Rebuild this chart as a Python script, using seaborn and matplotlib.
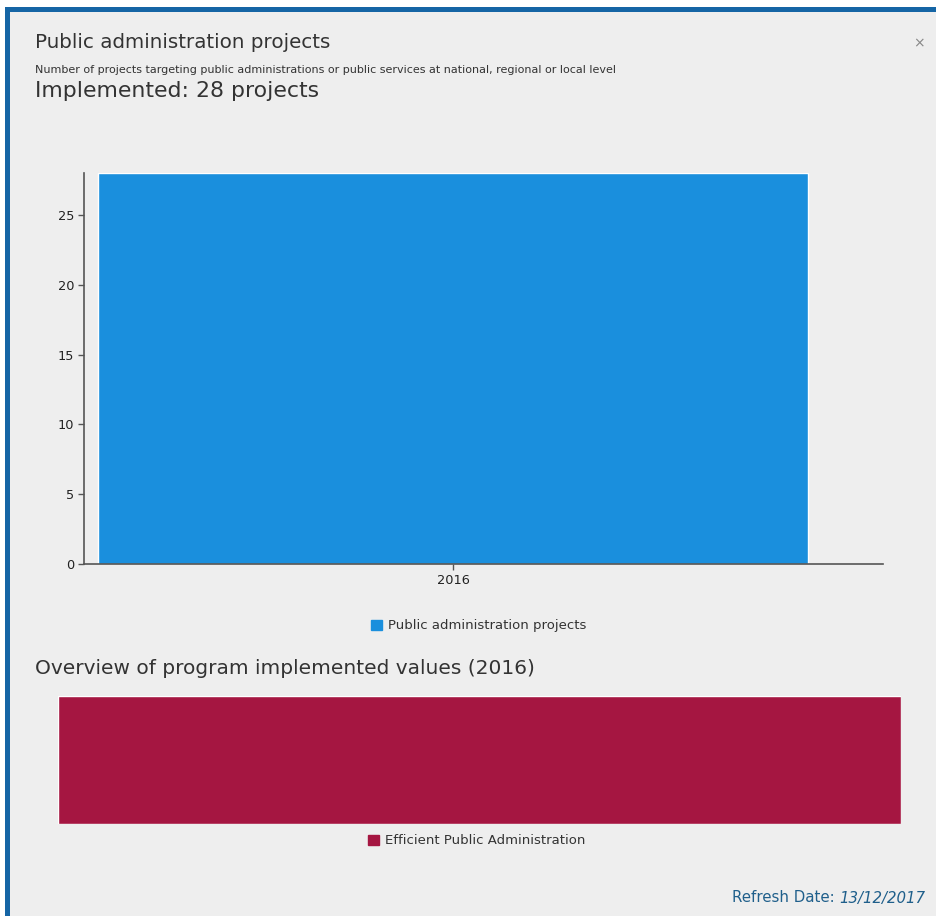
import matplotlib
matplotlib.use("Agg")
import matplotlib.pyplot as plt
import matplotlib.patches as mpatches
import seaborn as sns
import pandas as pd

# ---- data ----
years = ["2016"]
projects = [28]
program_labels = ["Efficient Public Administration"]
program_values = [28]
yticks = [0, 5, 10, 15, 20, 25]

BG = "#eeeeee"
BLUE = "#1a8fdd"
CRIMSON = "#a51641"
BORDER = "#1565a5"
TXT = "#333333"

sns.set_theme(style="white")
plt.rcParams["font.family"] = ["DejaVu Sans"]

W, H = 937, 916
fig = plt.figure(figsize=(W / 100, H / 100), dpi=100, facecolor="white")

def fx(x):
    return x / W

def fy(y):
    return 1 - y / H

# panel background and border
fig.add_artist(mpatches.Rectangle((fx(5), 0), 1 - fx(5), fy(7), transform=fig.transFigure,
                                  facecolor=BG, edgecolor="none", zorder=-10))
fig.add_artist(mpatches.Rectangle((fx(5), fy(12)), 1 - fx(5), fy(7) - fy(12), transform=fig.transFigure,
                                  facecolor=BORDER, edgecolor="none", zorder=-5))
fig.add_artist(mpatches.Rectangle((fx(5), 0), fx(5), fy(7), transform=fig.transFigure,
                                  facecolor=BORDER, edgecolor="none", zorder=-5))

# titles
fig.text(fx(35), fy(43), "Public administration projects", fontsize=14.3, color=TXT, va="center", ha="left")
fig.text(fx(35), fy(70), "Number of projects targeting public administrations or public services at national, regional or local level",
         fontsize=8.0, color=TXT, va="center", ha="left")
fig.text(fx(35), fy(91), "Implemented: 28 projects", fontsize=15.8, color=TXT, va="center", ha="left")
fig.text(fx(919), fy(43), "×", fontsize=10, color="#888888", va="center", ha="center")

# main bar chart
ax = fig.add_axes([fx(84), fy(564), fx(883) - fx(84), fy(173) - fy(564)])
ax.set_facecolor(BG)
df = pd.DataFrame({"year": years, "projects": projects})
sns.barplot(data=df, x="year", y="projects", color=BLUE, saturation=1, width=0.8, ax=ax)
ax.set_xlim(-0.4158, 0.4845)
ax.set_ylim(0, 28)
ax.set_yticks(yticks)
ax.set_xlabel("")
ax.set_ylabel("")
for s in ["top", "right"]:
    ax.spines[s].set_visible(False)
for s in ["left", "bottom"]:
    ax.spines[s].set_color("#555555")
    ax.spines[s].set_linewidth(1.2)
ax.tick_params(axis="both", which="both", length=4, width=1, color="#555555", labelsize=9.3,
               labelcolor="#222222", direction="out", left=True, bottom=True, pad=3)

fig.legend(handles=[mpatches.Patch(color=BLUE, label="Public administration projects")],
           loc="center", bbox_to_anchor=(fx(479), fy(626)), frameon=False, fontsize=9.5,
           handlelength=0.8, handleheight=0.8, handletextpad=0.5, labelcolor="#333333")

# overview
fig.text(fx(35), fy(669), "Overview of program implemented values (2016)", fontsize=14.5, color=TXT,
         va="center", ha="left")
ax2 = fig.add_axes([fx(58), fy(824), fx(901) - fx(58), fy(696) - fy(824)])
df2 = pd.DataFrame({"program": program_labels, "value": program_values})
sns.barplot(data=df2, x="value", y="program", orient="h", color=CRIMSON, saturation=1, width=1.0, ax=ax2)
ax2.set_xlim(0, sum(program_values))
ax2.set_ylim(0.5, -0.5)
ax2.axis("off")

fig.legend(handles=[mpatches.Patch(color=CRIMSON, label=program_labels[0])],
           loc="center", bbox_to_anchor=(fx(477), fy(841)), frameon=False, fontsize=9.5,
           handlelength=0.8, handleheight=0.8, handletextpad=0.5, labelcolor="#333333")

# refresh date
fig.canvas.draw()
t_date = fig.text(fx(925), fy(898), "13/12/2017", fontsize=10.8, color="#1f5f8b", style="italic",
                  ha="right", va="center")
fig.canvas.draw()
bb = t_date.get_window_extent()
fig.text(bb.x0 / W, fy(898), "Refresh Date: ", fontsize=10.8, color="#1f5f8b", ha="right", va="center")

fig.savefig("out.png", dpi=100, facecolor=fig.get_facecolor())
